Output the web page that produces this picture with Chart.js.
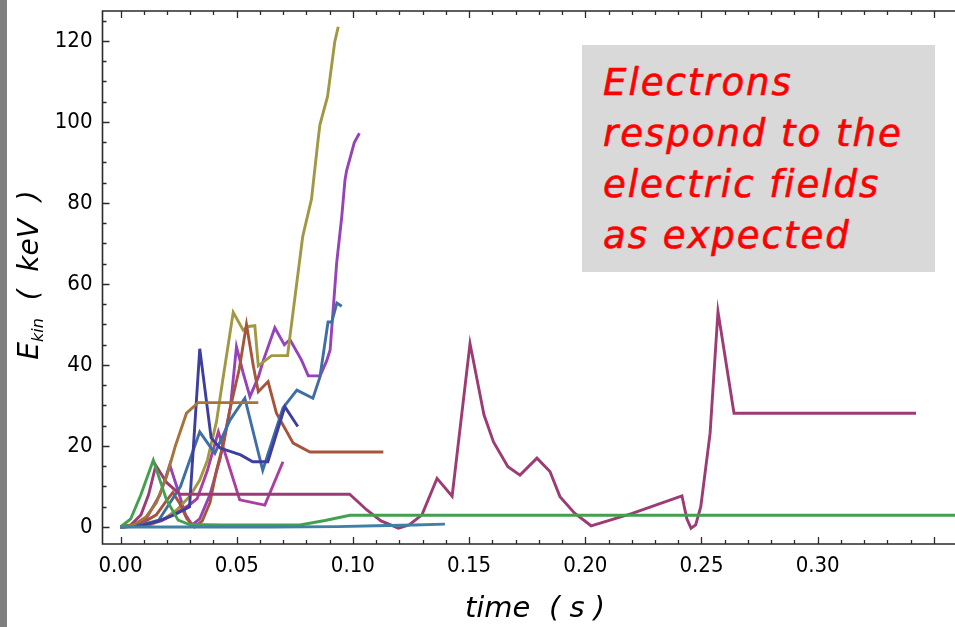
<!DOCTYPE html>
<html>
<head>
<meta charset="utf-8">
<script src="https://cdn.jsdelivr.net/npm/chart.js@4.4.1/dist/chart.umd.min.js"></script>
<style>
    html, body { margin: 0; padding: 0; background: #fff; overflow: hidden; }
    #wrap { position: relative; width: 955px; height: 627px; overflow: hidden; }
    #plot { position: absolute; left: 0; top: 0; }
    #edge { position: absolute; left: 0; top: 0; width: 7px; height: 627px; background: #7f7f7f; }
    #note {
        position: absolute; left: 582px; top: 45px; width: 353px; height: 227px;
        box-sizing: border-box; padding: 12px 0 0 21px; background: #d9d9d9;
        color: #ff0000; font: italic 37px "DejaVu Sans"; line-height: 51px;
        letter-spacing: 2px; white-space: nowrap; -webkit-text-stroke: 0.6px #ff0000;
    }
</style>
</head>
<body>
<div id="wrap">
    <canvas id="plot" width="1000" height="627"></canvas>
    <div id="edge"></div>
    <div id="note">Electrons<br>respond to the<br>electric fields<br>as expected</div>
</div>
<script>
// tick labels
const xTickValues = [0, 0.05, 0.10, 0.15, 0.20, 0.25, 0.30];
const yTickValues = [0, 20, 40, 60, 80, 100, 120];
const X_MIN = -0.00775, X_MAX = 0.3677;
const Y_MIN = -4.2, Y_MAX = 127.4;

// series: time (s) / kinetic energy (keV)
const oliveT = [0, 0.0066, 0.0126, 0.0187, 0.0242, 0.0297, 0.0341, 0.0374, 0.0413, 0.044, 0.0485, 0.0528, 0.055, 0.0578, 0.0593, 0.065, 0.0719, 0.0729, 0.0784, 0.0822, 0.0849, 0.0858, 0.0891, 0.0922, 0.0937];
const oliveE = [0, 0.1, 0.5, 2, 4.2, 7.5, 11.6, 16.5, 26, 36.3, 53, 48.6, 49.5, 49.7, 39.8, 42.3, 42.3, 47, 71.7, 81, 95, 99.3, 106.3, 119.8, 123.5];

const violetT = [0, 0.0055, 0.011, 0.017, 0.0212, 0.0242, 0.028, 0.0308, 0.0341, 0.0385, 0.0429, 0.0473, 0.0499, 0.0528, 0.0557, 0.0593, 0.0615, 0.0664, 0.0705, 0.0729, 0.0779, 0.0808, 0.0859, 0.0887, 0.0902, 0.093, 0.0952, 0.0966, 0.0973, 0.1006, 0.1028];
const violetE = [0, 0.3, 2, 8, 15.3, 10, 3, 0.5, 2, 8, 17, 29.6, 44.5, 38, 32.2, 37, 41.2, 49.2, 45, 46.3, 41.2, 37.3, 37.3, 41, 43.7, 65.1, 76.6, 85.7, 88, 94.9, 97.2];

const magentaT = [0, 0.0088, 0.0176, 0.0242, 0.0297, 0.033, 0.0374, 0.0421, 0.0513, 0.0621, 0.0699];
const magentaE = [0, 0.3, 1.5, 3.5, 5.5, 7, 14, 23.5, 6.7, 5.4, 16.1];

const darkBlueT = [0, 0.0088, 0.0165, 0.0231, 0.0297, 0.0341, 0.039, 0.0429, 0.0517, 0.0569, 0.0634, 0.0707, 0.0763];
const darkBlueE = [0, 0.3, 1.5, 3, 5, 44, 22, 19.5, 17.8, 16.1, 16.1, 29.7, 24.8];

const steelT = [0, 0.0088, 0.0165, 0.0258, 0.0341, 0.0406, 0.0471, 0.0535, 0.0612, 0.0699, 0.0759, 0.0828, 0.0858, 0.0893, 0.0909, 0.0931, 0.0952];
const steelE = [0, 0.5, 1.7, 10, 23.5, 18.2, 26.4, 31.8, 14, 29.4, 33.8, 31.8, 37, 50.6, 50.6, 55.3, 54.5];

const tealT = [0, 0.033, 0.066, 0.0934, 0.1099, 0.1264, 0.1396];
const tealE = [0, 0, 0, 0.1, 0.3, 0.5, 0.7];

const greenT = [0, 0.0044, 0.0088, 0.0141, 0.0198, 0.0248, 0.0297, 0.044, 0.0772, 0.088, 0.0987, 0.15, 0.20, 0.25, 0.30, 0.37];
const greenE = [0, 2, 8, 16.5, 6.7, 1.7, 0.6, 0.5, 0.5, 1.6, 2.9, 2.9, 2.9, 2.9, 2.9, 2.9];

const rustT = [0, 0.0088, 0.0154, 0.0198, 0.0225, 0.0253, 0.0286, 0.0319, 0.0352, 0.0385, 0.0413, 0.0445, 0.0471, 0.0511, 0.0542, 0.0572, 0.0593, 0.0635, 0.0671, 0.0743, 0.0815, 0.099, 0.1131];
const rustE = [0, 0.8, 3, 6.5, 8.5, 6, 2, 0, 1.5, 6, 14, 21, 29, 39, 50, 39.6, 33.4, 35.9, 28.1, 20.7, 18.5, 18.5, 18.5];

const ochreT = [0, 0.0055, 0.011, 0.0154, 0.0198, 0.0236, 0.0284, 0.0334, 0.0462, 0.0593];
const ochreE = [0, 0.5, 2.5, 6, 12.4, 20, 28.1, 30.7, 30.7, 30.7];

const plumT = [0, 0.0044, 0.0088, 0.0121, 0.0152, 0.0198, 0.0255, 0.055, 0.0986, 0.106, 0.1121, 0.1196, 0.1242, 0.1297, 0.1362, 0.1427, 0.1504, 0.1564, 0.1605, 0.1667, 0.1719, 0.1792, 0.1848, 0.1891, 0.1954, 0.2025, 0.2199, 0.2416, 0.2437, 0.2455, 0.2475, 0.2497, 0.2537, 0.2571, 0.264, 0.28, 0.335, 0.3423];
const plumE = [0, 0.5, 3, 8, 15.2, 11, 8.1, 8.1, 8.1, 4.2, 1.5, -0.3, 0.5, 3, 12, 7.6, 45.3, 27.7, 21, 14.9, 12.8, 17, 13.7, 7.5, 3.4, 0.3, 3.3, 7.65, 2, -0.3, 0.5, 5, 23.1, 53.2, 28.1, 28.1, 28.1, 28.1];

const series = [
    { t: tealT, e: tealE, color: '#3f80a6' },
    { t: greenT, e: greenE, color: '#44a04e' },
    { t: ochreT, e: ochreE, color: '#a5743c' },
    { t: plumT, e: plumE, color: '#9c3b74' },
    { t: darkBlueT, e: darkBlueE, color: '#3e3e9e' },
    { t: steelT, e: steelE, color: '#3f6ea6' },
    { t: rustT, e: rustE, color: '#a6553b' },
    { t: magentaT, e: magentaE, color: '#ac3ea2' },
    { t: oliveT, e: oliveE, color: '#a09842' },
    { t: violetT, e: violetE, color: '#9642b8' }
];

const TICK_FONT = '"DejaVu Sans Condensed", "Liberation Sans Narrow", "DejaVu Sans"';

// drop the extra room Chart.js keeps for half-labels, the frame is placed by layout padding only
function noScalePadding(s) {
    s.paddingTop = 0;
    s.paddingBottom = 0;
    s.paddingLeft = 0;
    s.paddingRight = 0;
}

const frameAndTitles = {
    id: 'frameAndTitles',
    afterDraw(chart) {
        const { ctx, chartArea: a, scales: { x, y } } = chart;
        ctx.save();
        ctx.strokeStyle = '#2a2a2a';
        ctx.lineWidth = 1.6;
        // left, top and bottom sides only; the right side runs off the picture
        ctx.beginPath();
        ctx.moveTo(a.right + 20, a.top);
        ctx.lineTo(a.left, a.top);
        ctx.lineTo(a.left, a.bottom);
        ctx.lineTo(a.right + 20, a.bottom);
        ctx.stroke();

        ctx.lineWidth = 1.3;
        ctx.beginPath();
        for (let i = 0; i <= 36; i++) {
            const px = Math.round(x.getPixelForValue(i / 100)) + 0.5;
            const len = i % 5 === 0 ? 7 : 4;
            ctx.moveTo(px, a.bottom); ctx.lineTo(px, a.bottom - len);
            ctx.moveTo(px, a.top); ctx.lineTo(px, a.top + len);
        }
        for (let v = 0; v <= 125; v += 5) {
            const py = Math.round(y.getPixelForValue(v)) + 0.5;
            const len = v % 20 === 0 ? 7 : 4;
            ctx.moveTo(a.left, py); ctx.lineTo(a.left + len, py);
        }
        ctx.stroke();

        // axis titles
        ctx.fillStyle = '#000';
        ctx.textBaseline = 'alphabetic';
        ctx.font = 'italic 29px "DejaVu Sans"';
        ctx.textAlign = 'center';
        ctx.fillText('time  ( s )', 535, 617);

        ctx.translate(38, 275);
        ctx.rotate(-Math.PI / 2);
        ctx.textAlign = 'left';
        const big = 'italic 28px "DejaVu Sans"', small = 'italic 16px "DejaVu Sans"';
        ctx.font = big;
        const wE = ctx.measureText('E').width;
        const wRest = ctx.measureText('  (  keV  )').width;
        ctx.font = small;
        const wSub = ctx.measureText('kin').width;
        let u = -(wE + wSub + wRest) / 2;
        ctx.font = big;
        ctx.fillText('E', u, 0);
        u += wE;
        ctx.font = small;
        ctx.fillText('kin', u, 5);
        u += wSub;
        ctx.font = big;
        ctx.fillText('  (  keV  )', u, 0);
        ctx.restore();
    }
};

new Chart(document.getElementById('plot'), {
    type: 'line',
    data: {
        datasets: series.map(s => ({
            data: s.t.map((t, i) => ({ x: t, y: s.e[i] })),
            borderColor: s.color,
            borderWidth: 2.9,
            pointRadius: 0,
            tension: 0,
            fill: false
        }))
    },
    options: {
        responsive: false,
        animation: false,
        layout: { autoPadding: false, padding: { top: 11, right: 25, left: 0, bottom: 0 } },
        plugins: { legend: { display: false }, tooltip: { enabled: false } },
        scales: {
            x: {
                type: 'linear',
                min: X_MIN,
                max: X_MAX,
                grid: { display: false, drawTicks: false },
                border: { display: false },
                afterBuildTicks: s => { s.ticks = xTickValues.map(v => ({ value: v })); },
                afterFit: s => { s.height = 83; noScalePadding(s); },
                ticks: {
                    color: '#000',
                    font: { family: TICK_FONT, size: 22 },
                    padding: 9,
                    maxRotation: 0,
                    autoSkip: false,
                    callback: v => Number(v).toFixed(2)
                }
            },
            y: {
                type: 'linear',
                min: Y_MIN,
                max: Y_MAX,
                grid: { display: false, drawTicks: false },
                border: { display: false },
                afterBuildTicks: s => { s.ticks = yTickValues.map(v => ({ value: v })); },
                afterFit: s => { s.width = 102.5; noScalePadding(s); },
                ticks: {
                    color: '#000',
                    font: { family: TICK_FONT, size: 22 },
                    padding: 10,
                    autoSkip: false,
                    callback: v => String(v)
                }
            }
        }
    },
    plugins: [frameAndTitles]
});
</script>
</body>
</html>
